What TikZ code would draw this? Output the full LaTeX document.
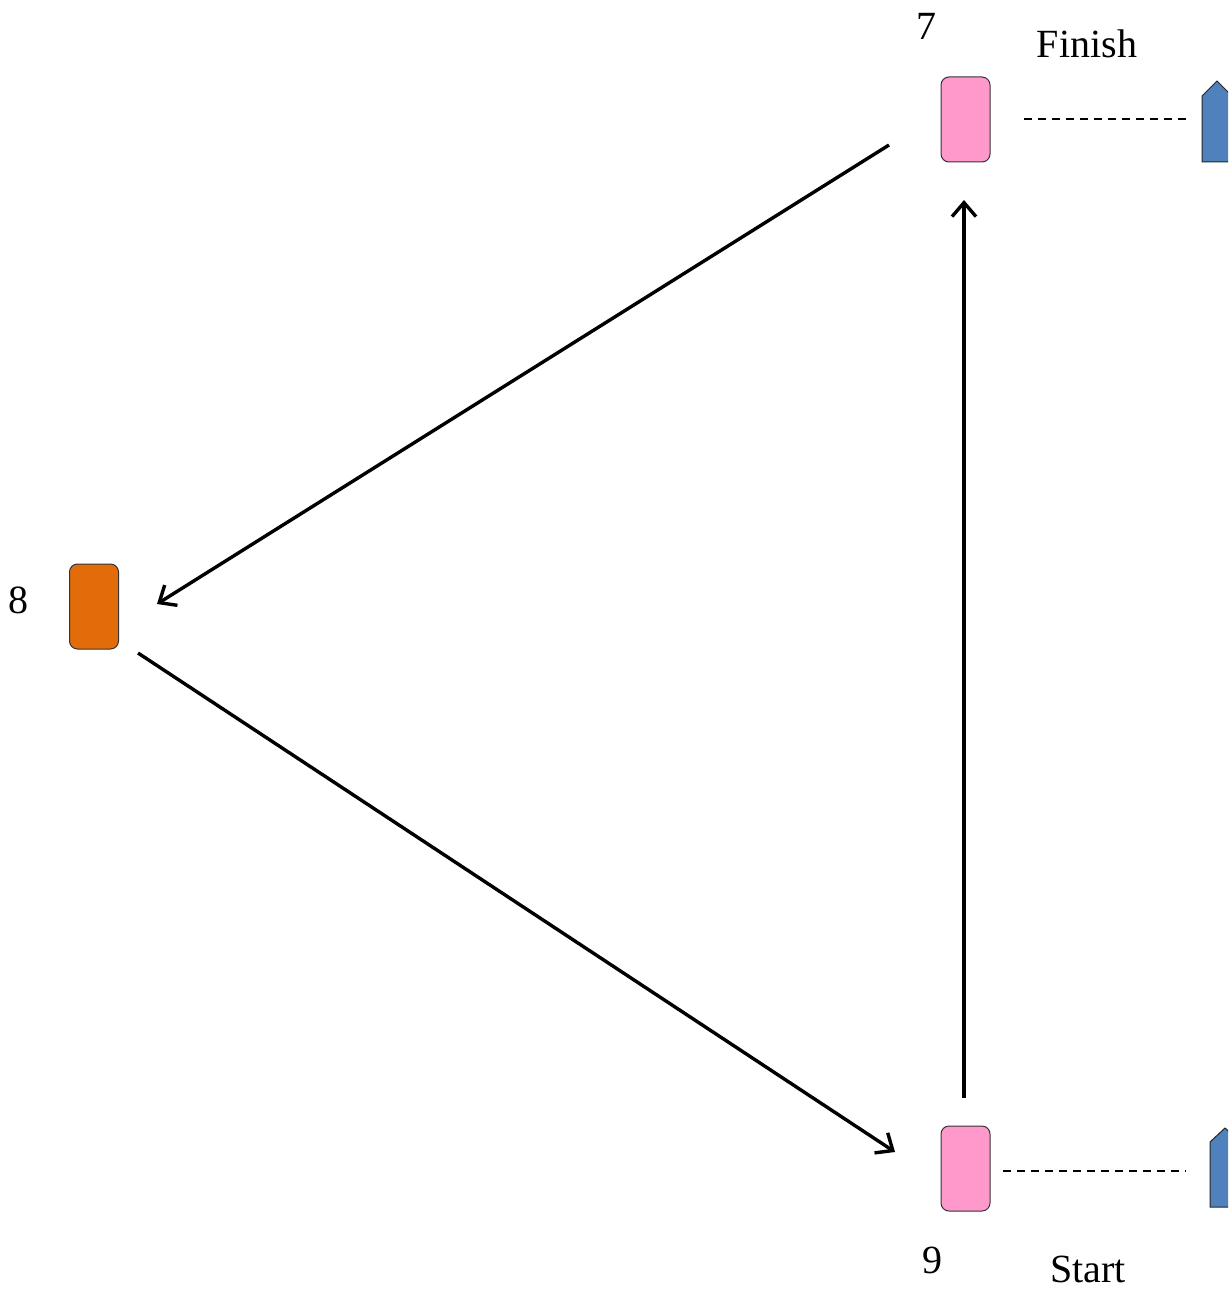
\documentclass[tikz,border=0pt]{standalone}
\usepackage{fontspec}
\setmainfont{Liberation Serif}
\usetikzlibrary{arrows.meta}
\definecolor{pinkbox}{HTML}{FF99CC}
\definecolor{orangebox}{HTML}{E36C0A}
\definecolor{bluehouse}{HTML}{4F81BD}
\tikzset{
  card/.style={draw=black!80, line width=1pt, rounded corners=8pt, minimum width=49pt, minimum height=85pt, inner sep=0pt},
  lbl/.style={font=\fontsize{40}{48}\selectfont, anchor=base, inner sep=0pt},
  flow/.style={line width=3.4pt, -{Straight Barb[length=14pt,width=24pt,line width=3.4pt]}},
  link/.style={line width=2pt, dash pattern=on 8pt off 6pt},
  house/.style={draw=black!85, line width=1pt, fill=bluehouse}
}
\begin{document}
\begin{tikzpicture}[x=1pt,y=-1pt]
\useasboundingbox (0,0) rectangle (1228,1292);
\clip (0,0) rectangle (1228,1292);
% cards
\node[card, fill=pinkbox] (n7) at (965.5,119.5) {};
\node[card, fill=pinkbox] (n9) at (965.5,1168.5) {};
\node[card, fill=orangebox] (n8) at (94,606.5) {};
% labels
\node[lbl] (l7) at (926,40) {7};
\node[lbl] (lfinish) at (1087,58) {Finish};
\node[lbl] (l8) at (19,613) {8};
\node[lbl] (l9) at (932,1273) {9};
\node[lbl] (lstart) at (1088,1282) {Start};
% houses
\draw[house] (1202,162) -- (1202,96) -- (1217,81) -- (1232,96) -- (1232,162) -- cycle;
\draw[house] (1210,1207) -- (1210,1142) -- (1225,1128) -- (1240,1142) -- (1240,1207) -- cycle;
% arrow end points
\coordinate (a7s) at (889,145);
\coordinate (a8e) at (157,604);
\coordinate (a8s) at (138,653);
\coordinate (a9e) at (895,1152);
\coordinate (a9s) at (964,1098);
\coordinate (a7e) at (964,200);
\coordinate (d1s) at (1024,119.5);
\coordinate (d1e) at (1190,119.5);
\coordinate (d2s) at (1003,1171);
\coordinate (d2e) at (1186,1171);
% connectors
\draw[flow] (a7s) -- (a8e);
\draw[flow] (a8s) -- (a9e);
\draw[flow] (a9s) -- (a7e);
\draw[link] (d1s) -- (d1e);
\draw[link] (d2s) -- (d2e);
\end{tikzpicture}
\end{document}
